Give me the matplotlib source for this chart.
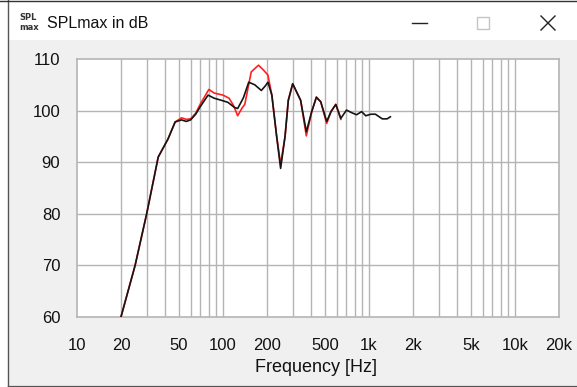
import matplotlib
matplotlib.use("Agg")
import matplotlib.pyplot as plt
from matplotlib.patches import Rectangle

# measured curves (frequency in Hz, SPL in dB)
freq_black = [20, 25, 30, 36, 42, 47, 52, 56, 60, 65, 70, 79, 87, 100, 108, 120,
              126, 138, 150, 165, 183, 195, 203, 216, 233, 248, 266, 280, 300,
              340, 372, 405, 436, 467, 513, 549, 592, 641, 701, 760, 821, 890,
              950, 1030, 1106, 1232, 1330, 1400]
spl_black = [60, 70, 80, 91, 94.5, 97.8, 98.2, 97.9, 98.2, 99.3, 100.8, 103.0,
             102.4, 101.9, 101.6, 100.6, 100.4, 102.5, 105.5, 105.0, 103.9, 104.8,
             105.5, 103.0, 95.0, 88.8, 95.0, 102.0, 105.2, 102.0, 95.9, 99.8,
             102.6, 101.7, 97.9, 99.8, 101.2, 98.5, 100.1, 99.6, 99.2, 99.8, 99.0,
             99.3, 99.3, 98.4, 98.4, 98.8]

freq_red = [20, 25, 30, 36, 42, 47, 52, 56, 60, 65, 70, 80, 87, 100, 110, 118,
            126, 135, 141, 156, 175, 190, 203, 216, 233, 248, 266, 280, 300, 340,
            372, 405, 436, 467, 513, 549, 592, 641]
spl_red = [60, 70, 80, 91, 94.5, 97.8, 98.6, 98.3, 98.4, 99.5, 101.3, 104.1,
           103.4, 103.0, 102.4, 101.0, 99.0, 100.5, 101.2, 107.5, 108.8, 107.8,
           106.9, 103.0, 95.0, 89.6, 95.0, 102.0, 105.2, 102.0, 95.1, 99.8,
           102.6, 101.7, 97.5, 99.8, 101.2, 98.3]

xticks = [10, 20, 50, 100, 200, 500, 1000, 2000, 5000, 10000, 20000]
xtick_labels = ["10", "20", "50", "100", "200", "500", "1k", "2k", "5k", "10k", "20k"]
yticks = [60, 70, 80, 90, 100, 110]

W, H = 577, 387
fig = plt.figure(figsize=(W / 100, H / 100), dpi=100, facecolor="white")

# window frame drawn in pixel coords
frame = fig.add_axes([0, 0, 1, 1], zorder=0)
frame.set_xlim(0, W)
frame.set_ylim(H, 0)
frame.axis("off")
frame.add_patch(Rectangle((8, 40), W - 8, 345, facecolor="#f0f0f0", edgecolor="none"))
frame.plot([7.5, 7.5], [0, 385.5], color="#555555", lw=1)
frame.plot([7.5, W], [385.5, 385.5], color="#555555", lw=1)
frame.plot([0, W], [0.5, 0.5], color="#333333", lw=1)
frame.text(19, 18, "SPL", fontsize=6, family="DejaVu Sans", va="center", ha="left",
           fontweight="bold", color="#333333")
frame.text(19, 27, "max", fontsize=6, family="DejaVu Sans", va="center", ha="left",
           fontweight="bold", color="#333333")
frame.text(47, 23, "SPLmax in dB", fontsize=11.5, family="Liberation Sans",
           va="center", ha="left", color="#111111")
frame.plot([412, 427], [23, 23], color="#222222", lw=1)
frame.add_patch(Rectangle((476.5, 16.5), 12, 12, facecolor="none", edgecolor="#c4c4c4", lw=1))
frame.plot([541, 555], [16, 30], color="#222222", lw=1)
frame.plot([541, 555], [30, 16], color="#222222", lw=1)
frame.text(316, 367, "Frequency [Hz]", fontsize=13, family="Liberation Sans",
           va="center", ha="center", color="#111111")

ax = fig.add_axes([77 / W, (H - 317) / H, 482 / W, 258 / H], zorder=1)
ax.set_facecolor("white")
ax.set_xscale("log")
ax.set_xlim(10, 20000)
ax.set_ylim(60, 110)

grid_color = "#b4b4b4"
for dec in [10, 100, 1000, 10000]:
    for m in range(1, 10):
        f = dec * m
        if 10 < f < 20000:
            ax.axvline(f, color=grid_color, lw=1, zorder=1)
for y in yticks[1:-1]:
    ax.axhline(y, color=grid_color, lw=1, zorder=1)
for s in ax.spines.values():
    s.set_color(grid_color)
    s.set_linewidth(1.2)

ax.plot(freq_red, spl_red, color="#ff2020", lw=1.2, zorder=3)
ax.plot(freq_black, spl_black, color="#151515", lw=1.2, zorder=4)

ax.set_xticks(xticks)
ax.set_xticklabels(xtick_labels)
ax.xaxis.set_minor_locator(matplotlib.ticker.NullLocator())
ax.set_yticks(yticks)
ax.tick_params(length=0, labelsize=12, colors="#111111")
ax.tick_params(axis="x", pad=15)
ax.tick_params(axis="y", pad=12)
for lab in ax.get_xticklabels() + ax.get_yticklabels():
    lab.set_family("Liberation Sans")

fig.savefig("out.png", dpi=100, facecolor="white")
